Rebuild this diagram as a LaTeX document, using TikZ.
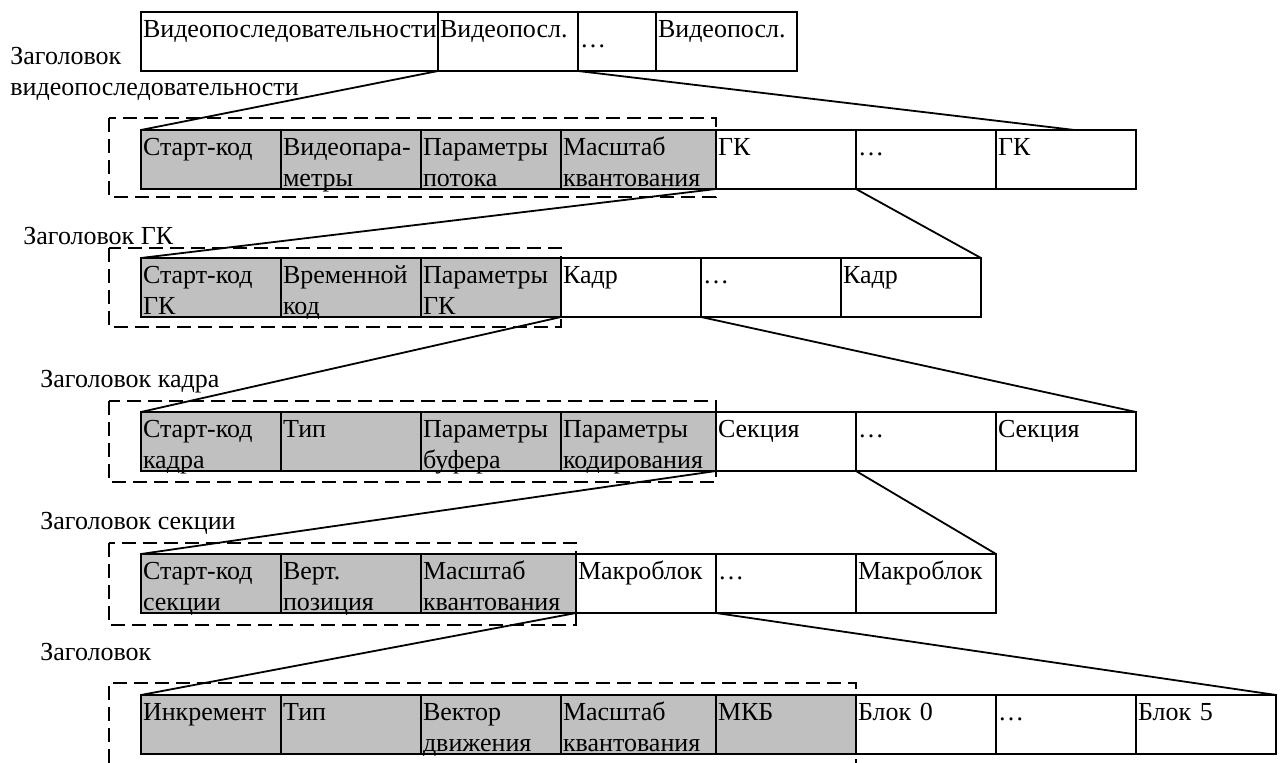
\documentclass[tikz,border=0pt]{standalone}
\usepackage{fontspec}
\setmainfont{Liberation Serif}
\usepackage{xcolor}
\usetikzlibrary{positioning,calc}
\definecolor{hdrgray}{RGB}{192,192,192}
\tikzset{
    cell/.style={rectangle,draw,line width=1pt,outer sep=0pt,inner xsep=1pt,inner ysep=0pt,
        text width=#1-2pt,align=left,text height=13pt,text depth=16.5pt,
        font=\fontsize{13}{15.5}\selectfont},
    cell/.default=70pt,
    hdr/.style={cell=#1,fill=hdrgray},
    hdr/.default=70pt,
    hdrframe/.style={line width=1pt,dash pattern=on 7pt off 3.5pt},
    link/.style={line width=0.9pt},
    lbl/.style={inner sep=0pt,align=left,anchor=north west,font=\fontsize{13}{15.5}\selectfont},
}
\begin{document}
\begin{tikzpicture}[x=0.5pt,y=-0.5pt]
\useasboundingbox (0,0) rectangle (1280,763);
% video sequence
\node[cell=148.5pt,anchor=north west] (v1) at (141,12) {Видеопоследовательности};
\node[cell,right=0pt of v1] (v2) {Видеопосл.};
\node[cell=39pt,right=0pt of v2] (v3) {\raisebox{-5pt}{\dots}};
\node[cell=70.5pt,right=0pt of v3] (v4) {Видеопосл.};
\node[lbl] (hseq) at (10,47) {Заголовок\\видеопоследовательности};

% sequence header + GOPs
\node[hdr,anchor=north west] (s1) at (141,130) {Старт-код};
\node[hdr,right=0pt of s1] (s2) {Видеопара-\\метры};
\node[hdr,right=0pt of s2] (s3) {Параметры\\потока};
\node[hdr=77.5pt,right=0pt of s3] (s4) {Масштаб\\квантования};
\node[cell,right=0pt of s4] (s5) {ГК};
\node[cell,right=0pt of s5] (s6) {…};
\node[cell,right=0pt of s6] (s7) {ГК};
\draw[hdrframe] ($(s1.north west)+(-16pt,6pt)$) rectangle ($(s4.south east)+(0pt,-4pt)$);

% GOP header + frames
\node[lbl] (hgop) at (23,227) {Заголовок ГК};
\node[hdr,anchor=north west] (g1) at (141,258) {Старт-код\\ГК};
\node[hdr,right=0pt of g1] (g2) {Временной\\код};
\node[hdr,right=0pt of g2] (g3) {Параметры\\ГК};
\node[cell,right=0pt of g3] (g4) {Кадр};
\node[cell,right=0pt of g4] (g5) {…};
\node[cell,right=0pt of g5] (g6) {Кадр};
\draw[hdrframe] ($(g1.north west)+(-16pt,5pt)$) rectangle ($(g3.south east)+(0pt,-5pt)$);

% frame header + slices
\node[lbl] (hfrm) at (40,370) {Заголовок кадра};
\node[hdr,anchor=north west] (f1) at (141,412) {Старт-код\\кадра};
\node[hdr,right=0pt of f1] (f2) {Тип};
\node[hdr,right=0pt of f2] (f3) {Параметры\\буфера};
\node[hdr=77.5pt,right=0pt of f3] (f4) {Параметры\\кодирования};
\node[cell,right=0pt of f4] (f5) {Секция};
\node[cell,right=0pt of f5] (f6) {…};
\node[cell,right=0pt of f6] (f7) {Секция};
\draw[hdrframe] ($(f1.north west)+(-16pt,5.5pt)$) rectangle ($(f4.south east)+(0pt,-5.5pt)$);

% slice header + macroblocks
\node[lbl] (hslc) at (40,512) {Заголовок секции};
\node[hdr,anchor=north west] (l1) at (141,554) {Старт-код\\секции};
\node[hdr,right=0pt of l1] (l2) {Верт.\\позиция};
\node[hdr=77.5pt,right=0pt of l2] (l3) {Масштаб\\квантования};
\node[cell,right=0pt of l3] (l4) {Макроблок};
\node[cell,right=0pt of l4] (l5) {…};
\node[cell,right=0pt of l5] (l6) {Макроблок};
\draw[hdrframe] ($(l1.north west)+(-16pt,5.5pt)$) rectangle ($(l3.south east)+(0pt,-6pt)$);

% macroblock header + blocks
\node[lbl] (hmb) at (40,643) {Заголовок};
\node[hdr,anchor=north west] (m1) at (141,695) {Инкремент};
\node[hdr,right=0pt of m1] (m2) {Тип};
\node[hdr,right=0pt of m2] (m3) {Вектор\\движения};
\node[hdr=77.5pt,right=0pt of m3] (m4) {Масштаб\\квантования};
\node[hdr,right=0pt of m4] (m5) {МКБ};
\node[cell,right=0pt of m5] (m6) {Блок 0};
\node[cell,right=0pt of m6] (m7) {…};
\node[cell,right=0pt of m7] (m8) {Блок 5};
\coordinate (d5top) at ($(m1.north west)+(-16pt,6pt)$);
\coordinate (d5foot) at (0,763);
\draw[hdrframe] (d5top |- d5foot) -- (d5top) -| (m5.east |- d5foot);

% expansion lines
\coordinate (s7mark) at ($(s7.north west)!0.56!(s7.north east)$);
\draw[link] (v2.south west) -- (s1.north west);
\draw[link] (v2.south east) -- (s7mark);
\draw[link] (s5.south west) -- (g1.north west);
\draw[link] (s5.south east) -- (g6.north east);
\draw[link] (g4.south west) -- (f1.north west);
\draw[link] (g4.south east) -- (f7.north east);
\draw[link] (f5.south west) -- (l1.north west);
\draw[link] (f5.south east) -- (l6.north east);
\draw[link] (l4.south west) -- (m1.north west);
\draw[link] (l4.south east) -- (m8.north east);
\end{tikzpicture}
\end{document}
